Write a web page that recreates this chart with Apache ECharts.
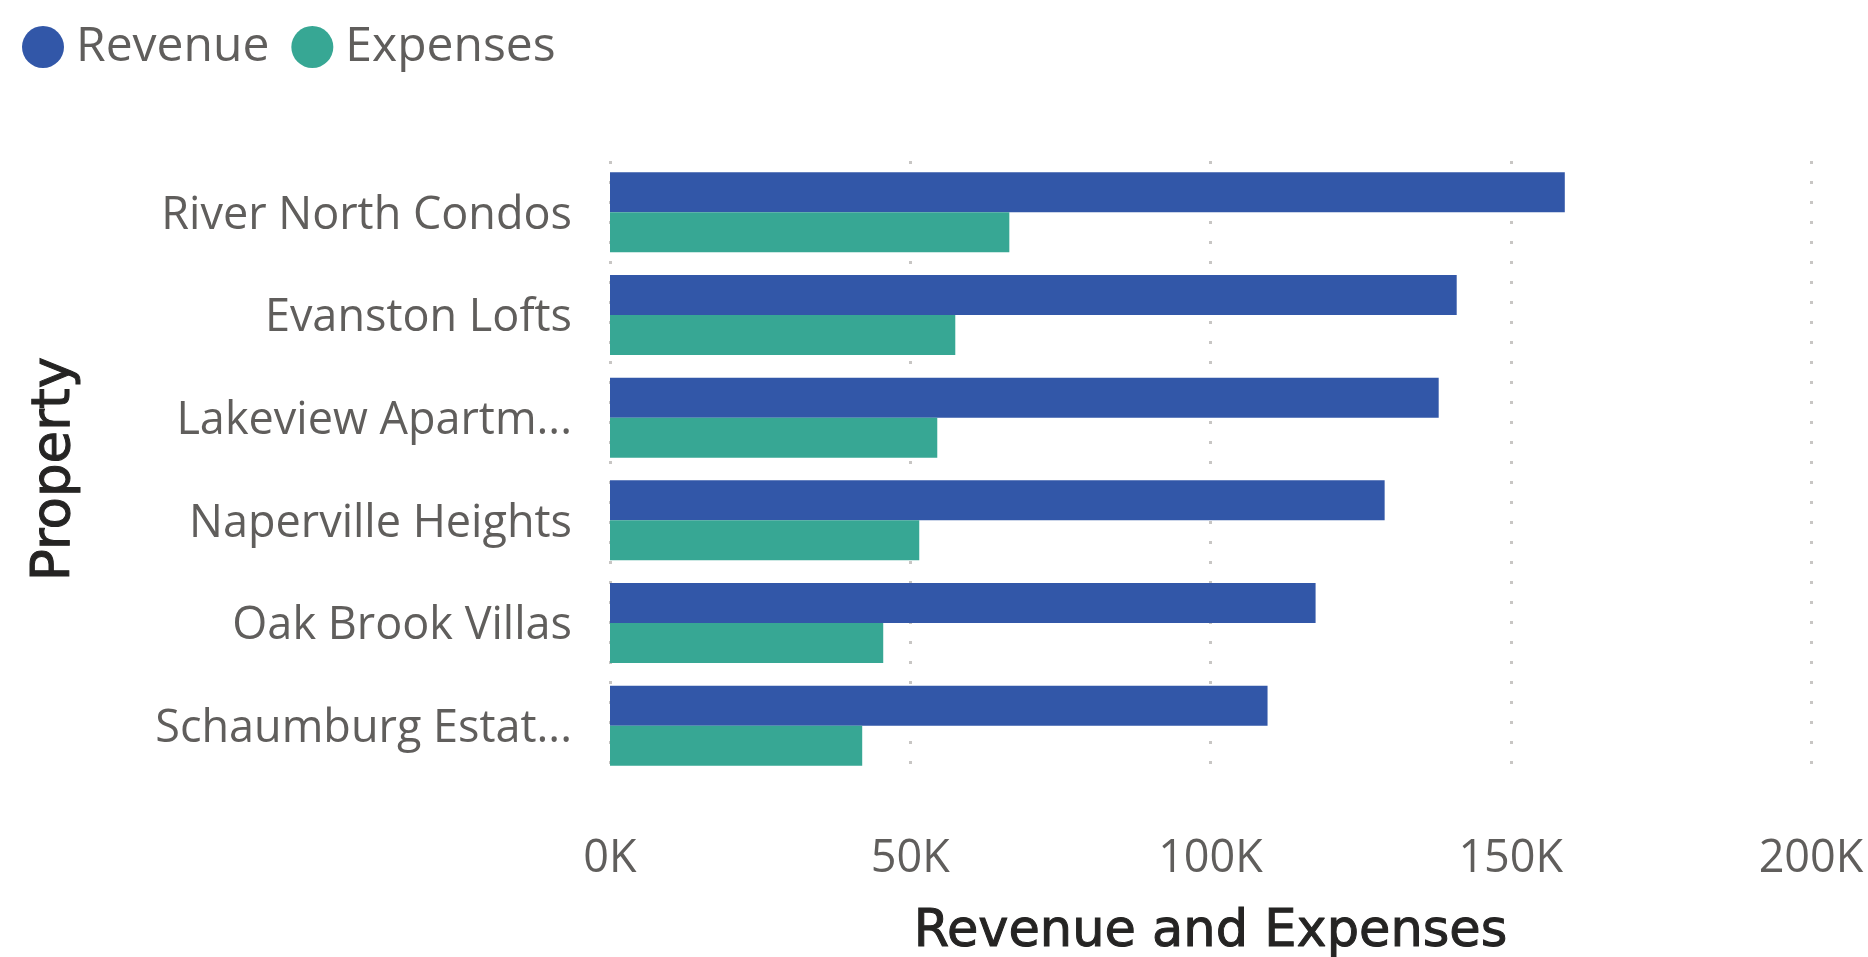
<!DOCTYPE html>
<html>
<head>
<meta charset="utf-8">
<script src="https://cdn.jsdelivr.net/npm/echarts@6/dist/echarts.min.js"></script>
<style>
html,body{margin:0;padding:0;background:#fff;}
#chart{width:1868px;height:957px;}
</style>
</head>
<body>
<div id="chart"></div>
<script>
const properties = ["River North Condos", "Evanston Lofts", "Lakeview Apartments", "Naperville Heights", "Oak Brook Villas", "Schaumburg Estates"];
const revenue = [159000, 141000, 138000, 129000, 117500, 109500];
const expenses = [66500, 57500, 54500, 51500, 45500, 42000];
const xTicks = [0, 50000, 100000, 150000, 200000];

const chart = echarts.init(document.getElementById('chart'));
const labelColor = '#605E5C';
chart.setOption({
  animation: false,
  legend: {
    left: 17, top: 18,
    itemWidth: 56, itemHeight: 42, itemGap: 22,
    icon: 'circle',
    textStyle: { fontFamily: 'Open Sans', fontSize: 48, color: labelColor },
    data: ['Revenue', 'Expenses']
  },
  grid: { left: 610, right: 57, top: 161, bottom: 180, outerBoundsMode: 'none', containLabel: false },
  xAxis: {
    type: 'value', min: xTicks[0], max: xTicks[xTicks.length - 1], interval: 50000,
    axisLine: { show: false }, axisTick: { show: false },
    axisLabel: { fontFamily: 'Open Sans', fontSize: 45, color: labelColor, margin: 60,
      formatter: v => (v / 1000) + 'K' },
    splitLine: { show: true, lineStyle: { color: '#C8C6C4', width: 3, type: [3, 17] } },
    name: 'Revenue and Expenses', nameLocation: 'middle', nameGap: 130,
    nameTextStyle: { fontFamily: 'DejaVu Sans', fontSize: 51, color: '#252423',
      textBorderColor: '#252423', textBorderWidth: 1 }
  },
  yAxis: {
    type: 'category', inverse: true, data: properties,
    axisLine: { show: false }, axisTick: { show: false },
    axisLabel: { fontFamily: 'Open Sans', fontSize: 45, color: labelColor, margin: 38,
      width: 420, overflow: 'truncate', ellipsis: '...',
      verticalAlign: 'top', lineHeight: 7 },
    name: 'Property', nameLocation: 'middle', nameGap: 528,
    nameTextStyle: { fontFamily: 'DejaVu Sans', fontSize: 53, color: '#252423',
      textBorderColor: '#252423', textBorderWidth: 1 }
  },
  series: [
    { name: 'Revenue', type: 'bar', data: revenue, barGap: '0%', barCategoryGap: '22%',
      itemStyle: { color: '#3257A8' } },
    { name: 'Expenses', type: 'bar', data: expenses,
      itemStyle: { color: '#37A794' } }
  ]
});
</script>
</body>
</html>
